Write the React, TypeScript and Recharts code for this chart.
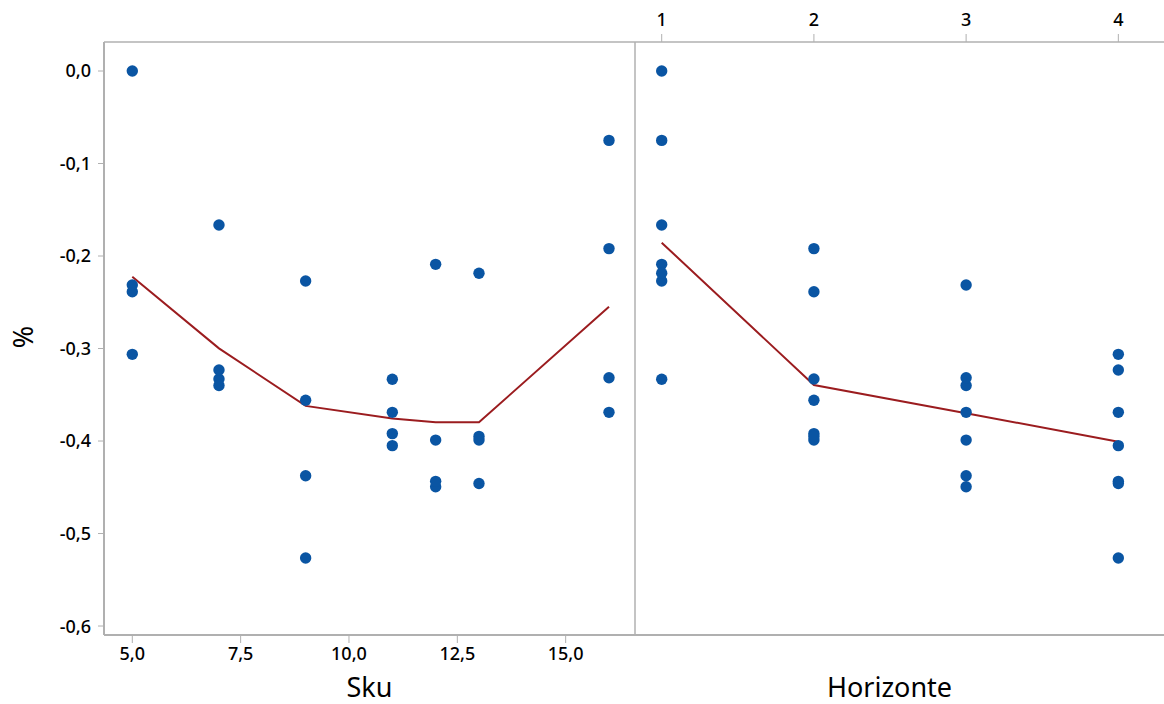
import { ComposedChart, Scatter, Line, XAxis, YAxis, ReferenceLine } from 'recharts';

// Sku levels (left panel) and Horizonte levels (right panel)
const skuLevels = [5, 7, 9, 11, 12, 13, 16];
const horizonteLevels = [1, 2, 3, 4];

// % values for each horizonte, in skuLevels order
const horizonte1 = [0, -0.1665, -0.227, -0.3333, -0.209, -0.2187, -0.075];
const horizonte2 = [-0.2386, -0.333, -0.356, -0.392, -0.399, -0.395, -0.192];
const horizonte3 = [-0.2314, -0.34, -0.4375, -0.369, -0.4494, -0.399, -0.3316];
const horizonte4 = [-0.3063, -0.3232, -0.5265, -0.405, -0.4436, -0.446, -0.369];

// fitted (red) line
const skuFit = [-0.2224, -0.2998, -0.362, -0.3757, -0.3798, -0.3798, -0.2548];
const horizonteFit = [-0.1856, -0.3395, -0.37, -0.4007];

const yTicks = [-0.6, -0.5, -0.4, -0.3, -0.2, -0.1, 0];
const skuTicks = [5, 7.5, 10, 12.5, 15];

const byHorizonte = [horizonte1, horizonte2, horizonte3, horizonte4];

const skuPoints = skuLevels.flatMap((s, i) => byHorizonte.map((h) => ({ x: s, y: h[i] })));
const horizontePoints = horizonteLevels.flatMap((h, j) =>
  skuLevels.map((_, i) => ({ x: h, y: byHorizonte[j][i] }))
);
const skuLine = skuLevels.map((s, i) => ({ x: s, y: skuFit[i] }));
const horizonteLine = horizonteLevels.map((h, j) => ({ x: h, y: horizonteFit[j] }));

const W = 1164;
const H = 704;
const split = 635;
const font = '"Noto Sans", "Open Sans", sans-serif';
const frame = '#b0b0b0';
const dotColor = '#0a55a3';
const lineColor = '#9b1c1f';
const yDomain = [-0.6097, 0.03135];
const horDomain = [0.8246, 4.3];
const tickFont = 18;

const comma = (v: number) => v.toFixed(1).replace('.', ',');

// tick label renderer: kind decides anchor and baseline
const makeTick = (kind: 'left' | 'bottom' | 'top', fmt: (v: number) => string) => (props: any) => {
  const { x, y, payload } = props;
  const anchor = kind === 'left' ? 'end' : 'middle';
  const dy = kind === 'left' ? '0.36em' : kind === 'bottom' ? '0.72em' : '0';
  return (
    <text
      x={x}
      y={y}
      dy={dy}
      textAnchor={anchor}
      fontSize={tickFont}
      fontFamily={font}
      fontWeight={500}
      fill="#000"
    >
      {fmt(payload.value)}
    </text>
  );
};

const Dot = (props: any) => <circle cx={props.cx} cy={props.cy} r={5.7} fill={dotColor} />;

const AxisTitle = (props: any) => {
  const { viewBox, value, dx = 0 } = props;
  return (
    <text
      x={viewBox.x + viewBox.width / 2 + dx}
      y={viewBox.y + 62}
      textAnchor="middle"
      fontSize={27}
      fontFamily={font}
      fill="#000"
    >
      {value}
    </text>
  );
};

const PctTitle = () => (
  <text
    x={33}
    y={337}
    transform="rotate(-90, 33, 337)"
    textAnchor="middle"
    fontSize={27}
    fontFamily={font}
    fill="#000"
  >
    %
  </text>
);

export default function App() {
  return (
    <div style={{ position: 'absolute', left: 0, top: 0, width: W, height: H, background: '#fff' }}>
      <div style={{ position: 'absolute', left: 0, top: 0 }}>
        <ComposedChart width={W} height={H} margin={{ top: 0, right: W - split, bottom: 0, left: 0 }}>
          <XAxis
            xAxisId="sku"
            type="number"
            dataKey="x"
            domain={[4.347, 16.6]}
            allowDataOverflow
            ticks={skuTicks}
            height={69}
            tickSize={8}
            tickMargin={4}
            tick={makeTick('bottom', comma)}
            tickLine={{ stroke: frame }}
            axisLine={{ stroke: frame, strokeWidth: 2 }}
            label={<AxisTitle value="Sku" />}
          />
          <XAxis
            xAxisId="frameTop"
            type="number"
            orientation="top"
            domain={[0, 1]}
            height={42}
            tick={false}
            tickLine={false}
            axisLine={{ stroke: frame, strokeWidth: 1.3 }}
          />
          <YAxis
            yAxisId="pct"
            type="number"
            dataKey="y"
            domain={yDomain}
            allowDataOverflow
            ticks={yTicks}
            width={104}
            tickSize={6}
            tickMargin={7}
            tick={makeTick('left', comma)}
            tickLine={{ stroke: frame }}
            axisLine={{ stroke: frame, strokeWidth: 2 }}
            label={<PctTitle />}
          />
          <Scatter
            xAxisId="sku"
            yAxisId="pct"
            data={skuPoints}
            shape={Dot}
            isAnimationActive={false}
          />
          <Line
            xAxisId="sku"
            yAxisId="pct"
            data={skuLine}
            dataKey="y"
            type="linear"
            stroke={lineColor}
            strokeWidth={2}
            dot={false}
            activeDot={false}
            isAnimationActive={false}
          />
        </ComposedChart>
      </div>
      <div style={{ position: 'absolute', left: 0, top: 0 }}>
        <ComposedChart width={W} height={H} margin={{ top: 0, right: 0, bottom: 0, left: split }}>
          <XAxis
            xAxisId="hor"
            type="number"
            dataKey="x"
            orientation="top"
            domain={horDomain}
            allowDataOverflow
            ticks={horizonteLevels}
            height={42}
            tickSize={8}
            tickMargin={8}
            tick={makeTick('top', (v) => String(v))}
            tickLine={{ stroke: frame }}
            axisLine={{ stroke: frame, strokeWidth: 1.3 }}
          />
          <XAxis
            xAxisId="frameBottom"
            type="number"
            orientation="bottom"
            domain={[0, 1]}
            height={69}
            tick={false}
            tickLine={false}
            axisLine={{ stroke: frame, strokeWidth: 2 }}
            label={<AxisTitle value="Horizonte" dx={-10} />}
          />
          <YAxis
            yAxisId="pct"
            type="number"
            dataKey="y"
            domain={yDomain}
            allowDataOverflow
            width={0}
            tick={false}
            tickLine={false}
            axisLine={false}
          />
          <ReferenceLine
            xAxisId="hor"
            yAxisId="pct"
            x={horDomain[0]}
            stroke={frame}
            strokeWidth={1.5}
          />
          <Scatter
            xAxisId="hor"
            yAxisId="pct"
            data={horizontePoints}
            shape={Dot}
            isAnimationActive={false}
          />
          <Line
            xAxisId="hor"
            yAxisId="pct"
            data={horizonteLine}
            dataKey="y"
            type="linear"
            stroke={lineColor}
            strokeWidth={2}
            dot={false}
            activeDot={false}
            isAnimationActive={false}
          />
        </ComposedChart>
      </div>
    </div>
  );
}
